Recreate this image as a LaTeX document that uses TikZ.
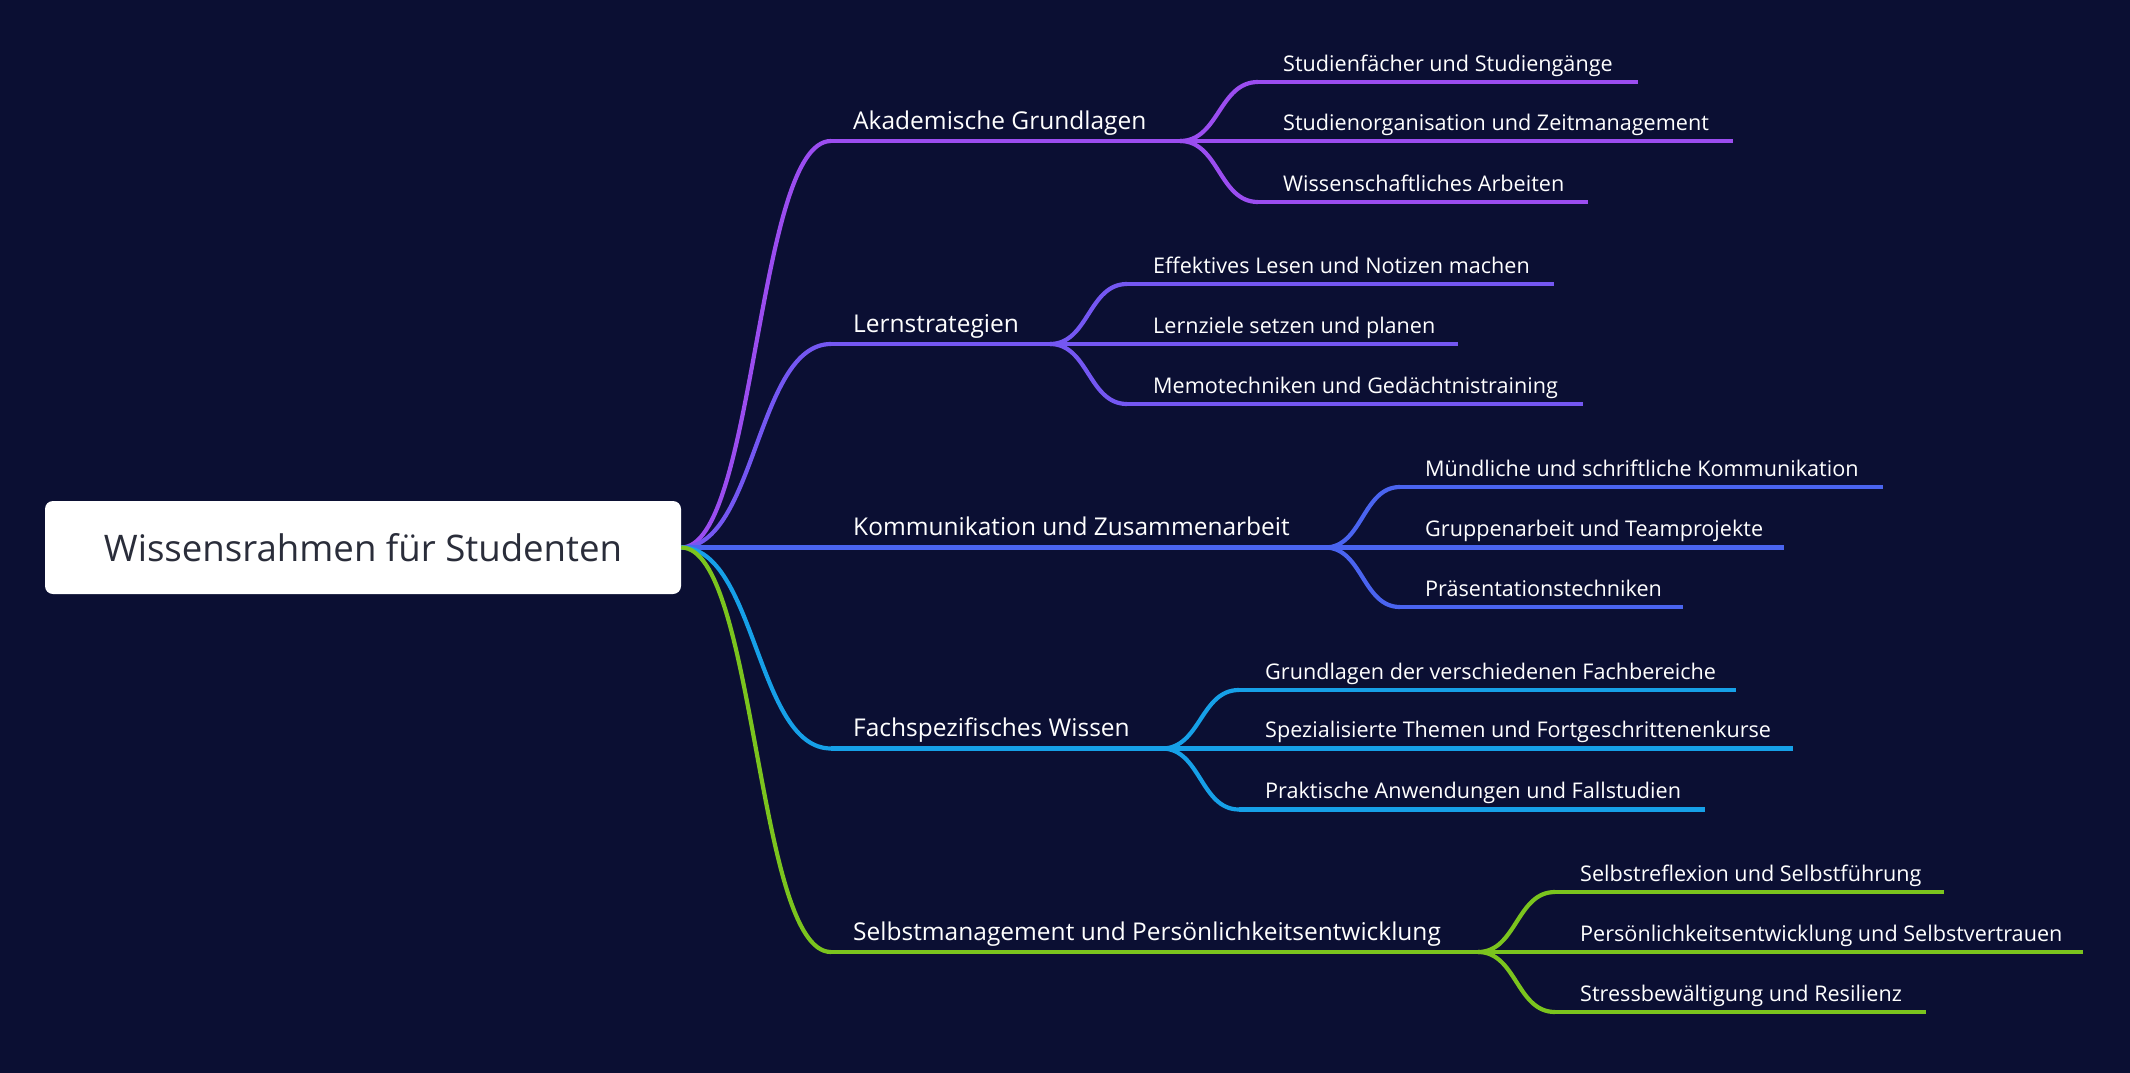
\documentclass[tikz,border=0pt]{standalone}
\usepackage{fontspec}
\setmainfont{Open Sans}
\usetikzlibrary{calc}
\definecolor{bgc}{HTML}{0B0F33}
\definecolor{cA}{HTML}{9B4DF0}
\definecolor{cB}{HTML}{7457F2}
\definecolor{cC}{HTML}{4A64F0}
\definecolor{cD}{HTML}{16A0E8}
\definecolor{cE}{HTML}{7BC41E}
\definecolor{roottext}{HTML}{2A2D3A}
\newcommand\mmlink[3]{\draw[#1] let \p1=(#2), \p2=(#3) in (\p1) .. controls ({(\x1+\x2)/2},\y1) and ({(\x1+\x2)/2},\y2) .. (\p2);}
\tikzset{
  wire/.style={line width=4.2pt},
  maintext/.style={anchor=base west, inner sep=0pt, text=white, font=\fontsize{24.5}{28}\selectfont},
  subtext/.style={anchor=base west, inner sep=0pt, text=white, font=\fontsize{21.6}{25}\selectfont},
  rootbox/.style={fill=white, rounded corners=8pt, minimum width=636pt, minimum height=93pt, inner sep=0pt, text=roottext, font=\fontsize{36.6}{42}\selectfont}
}
\begin{document}
\begin{tikzpicture}[x=1pt,y=-1pt]
\fill[bgc] (0,0) rectangle (2130,1073);
\useasboundingbox (0,0) rectangle (2130,1073);
\node[rootbox] (root) at (363,547.5) {Wissensrahmen für Studenten};

% ---- Branch A
\coordinate (As) at (831,141); \coordinate (Aj) at (1180,141);
\node[maintext] (At) at (853,129) {Akademische Grundlagen};
\coordinate (A1s) at (1258,82);  \coordinate (A1e) at (1638,82);
\coordinate (A2s) at (1258,141); \coordinate (A2e) at (1733,141);
\coordinate (A3s) at (1258,202); \coordinate (A3e) at (1588,202);
\node[subtext] (A1t) at (1283,71) {Studienfächer und Studiengänge};
\node[subtext] (A2t) at (1283,130) {Studienorganisation und Zeitmanagement};
\node[subtext] (A3t) at (1283,191) {Wissenschaftliches Arbeiten};
\mmlink{wire,cA}{root.east}{As}
\draw[wire,cA] (As) -- (Aj);
\mmlink{wire,cA}{Aj}{A1s} \draw[wire,cA] (A1s) -- (A1e);
\draw[wire,cA] (Aj) -- (A2s) -- (A2e);
\mmlink{wire,cA}{Aj}{A3s} \draw[wire,cA] (A3s) -- (A3e);

% ---- Branch B
\coordinate (Bs) at (831,344); \coordinate (Bj) at (1050,344);
\node[maintext] (Bt) at (853,332) {Lernstrategien};
\coordinate (B1s) at (1127,284); \coordinate (B1e) at (1554,284);
\coordinate (B2s) at (1127,344); \coordinate (B2e) at (1458,344);
\coordinate (B3s) at (1127,404); \coordinate (B3e) at (1583,404);
\node[subtext] (B1t) at (1153,273) {Effektives Lesen und Notizen machen};
\node[subtext] (B2t) at (1153,333) {Lernziele setzen und planen};
\node[subtext] (B3t) at (1153,393) {Memotechniken und Gedächtnistraining};
\mmlink{wire,cB}{root.east}{Bs}
\draw[wire,cB] (Bs) -- (Bj);
\mmlink{wire,cB}{Bj}{B1s} \draw[wire,cB] (B1s) -- (B1e);
\draw[wire,cB] (Bj) -- (B2s) -- (B2e);
\mmlink{wire,cB}{Bj}{B3s} \draw[wire,cB] (B3s) -- (B3e);

% ---- Branch C
\coordinate (Cj) at (1325,547.5);
\node[maintext] (Ct) at (853,535) {Kommunikation und Zusammenarbeit};
\coordinate (C1s) at (1400,487);   \coordinate (C1e) at (1883,487);
\coordinate (C2s) at (1400,547.5); \coordinate (C2e) at (1784,547.5);
\coordinate (C3s) at (1400,607);   \coordinate (C3e) at (1683,607);
\node[subtext] (C1t) at (1425,476) {Mündliche und schriftliche Kommunikation};
\node[subtext] (C2t) at (1425,536) {Gruppenarbeit und Teamprojekte};
\node[subtext] (C3t) at (1425,596) {Präsentationstechniken};
\draw[wire,cC] (root.east) -- (Cj);
\mmlink{wire,cC}{Cj}{C1s} \draw[wire,cC] (C1s) -- (C1e);
\draw[wire,cC] (Cj) -- (C2s) -- (C2e);
\mmlink{wire,cC}{Cj}{C3s} \draw[wire,cC] (C3s) -- (C3e);

% ---- Branch D
\coordinate (Ds) at (831,748.5); \coordinate (Dj) at (1162,748.5);
\node[maintext] (Dt) at (853,736) {Fachspezifisches Wissen};
\coordinate (D1s) at (1239,690);   \coordinate (D1e) at (1736,690);
\coordinate (D2s) at (1239,748.5); \coordinate (D2e) at (1793,748.5);
\coordinate (D3s) at (1239,809.5); \coordinate (D3e) at (1705,809.5);
\node[subtext] (D1t) at (1265,679) {Grundlagen der verschiedenen Fachbereiche};
\node[subtext] (D2t) at (1265,737) {Spezialisierte Themen und Fortgeschrittenenkurse};
\node[subtext] (D3t) at (1265,798) {Praktische Anwendungen und Fallstudien};
\mmlink{wire,cD}{root.east}{Ds}
\draw[wire,cD] (Ds) -- (Dj);
\mmlink{wire,cD}{Dj}{D1s} \draw[wire,cD] (D1s) -- (D1e);
\draw[wire,cD] (Dj) -- (D2s) -- (D2e);
\mmlink{wire,cD}{Dj}{D3s} \draw[wire,cD] (D3s) -- (D3e);

% ---- Branch E
\coordinate (Es) at (831,952); \coordinate (Ej) at (1478,952);
\node[maintext] (Et) at (853,940) {Selbstmanagement und Persönlichkeitsentwicklung};
\coordinate (E1s) at (1555,892);  \coordinate (E1e) at (1944,892);
\coordinate (E2s) at (1555,952);  \coordinate (E2e) at (2083,952);
\coordinate (E3s) at (1555,1012); \coordinate (E3e) at (1926,1012);
\node[subtext] (E1t) at (1580,881) {Selbstreflexion und Selbstführung};
\node[subtext] (E2t) at (1580,941) {Persönlichkeitsentwicklung und Selbstvertrauen};
\node[subtext] (E3t) at (1580,1001) {Stressbewältigung und Resilienz};
\mmlink{wire,cE}{root.east}{Es}
\draw[wire,cE] (Es) -- (Ej);
\mmlink{wire,cE}{Ej}{E1s} \draw[wire,cE] (E1s) -- (E1e);
\draw[wire,cE] (Ej) -- (E2s) -- (E2e);
\mmlink{wire,cE}{Ej}{E3s} \draw[wire,cE] (E3s) -- (E3e);
\end{tikzpicture}
\end{document}
